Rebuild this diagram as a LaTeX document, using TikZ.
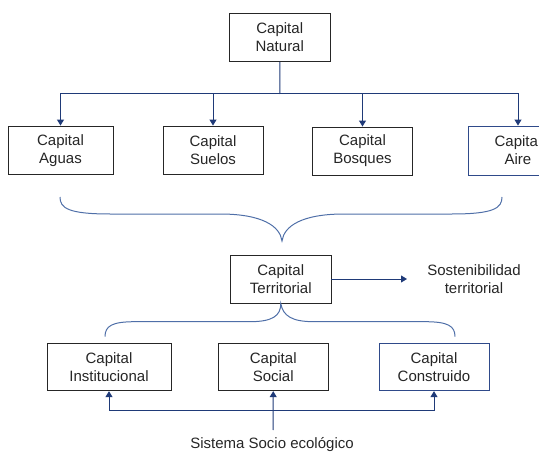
\documentclass[tikz,border=0pt]{standalone}
\usepackage{fontspec}
\setmainfont{Liberation Sans}
\usetikzlibrary{arrows.meta}
\definecolor{navy}{HTML}{1F3A78}
\definecolor{lineblue}{HTML}{4F6FA8}
\definecolor{boxblue}{HTML}{2F4A8A}
\definecolor{boxgray}{HTML}{262626}
\tikzset{
  capbox/.style={draw=boxgray, line width=0.9pt, fill=white, inner sep=0pt, align=center,
    font=\fontsize{15}{18}\selectfont, text=black!85},
  bluebox/.style={capbox, draw=boxblue},
  lbl/.style={align=center, font=\fontsize{15}{18}\selectfont, text=black!85, inner sep=0pt},
  conn/.style={draw=navy, line width=1pt, -{Triangle[length=6pt,width=7pt]}},
  plain/.style={draw=navy, line width=1pt},
  brace/.style={draw=lineblue, line width=1pt}
}
\begin{document}
\begin{tikzpicture}[x=1pt,y=-1pt]
\useasboundingbox (0,0) rectangle (539,452);
% top
\node[capbox, minimum width=100.5pt, minimum height=48.5pt] (nat) at (279.75,37.25) {Capital\\Natural};
\node[capbox, minimum width=105pt, minimum height=48.5pt] (agu) at (60.5,150.25) {Capital\\Aguas};
\node[capbox, minimum width=100pt, minimum height=48.5pt] (sue) at (213,150.25) {Capital\\Suelos};
\node[capbox, minimum width=100pt, minimum height=48pt] (bos) at (362.5,151) {Capital\\Bosques};
\node[bluebox, minimum width=100pt, minimum height=49pt] (air) at (518,150.5) {Capital\\Aire};
\coordinate (hub) at (280,94);
\draw[plain] (nat.south) -- (hub);
\draw[draw=lineblue, line width=1pt] (60,94) -- (518,94);
\draw[conn] (hub) -| (agu.north);
\draw[conn] (hub) -| (sue.north);
\draw[conn] (hub) -| (bos.north);
\draw[conn] (hub) -| (air.north);
% big brace
\coordinate (b1) at (60,197);
\coordinate (b2) at (502,197);
\coordinate (btip) at (282,241);
\draw[brace] (b1) .. controls (60,208) and (68,214) .. (110,214) -- (220,214)
  .. controls (262,214) and (280,226) .. (btip)
  .. controls (284,226) and (302,214) .. (344,214) -- (452,214)
  .. controls (494,214) and (502,208) .. (b2);
% territorial
\node[capbox, minimum width=100.5pt, minimum height=48pt] (ter) at (280.75,279) {Capital\\Territorial};
\node[lbl] (sos) at (474,279) {Sostenibilidad\\territorial};
\coordinate (tip) at (407,279);
\draw[conn] (ter.east) -- (tip);
% lower brace
\draw[brace] (105,336.7) .. controls (105,326) and (112,321.7) .. (135,321.7) -- (250,321.7)
  .. controls (272,321.7) and (281,316) .. (ter.south)
  .. controls (283,316) and (292,321.7) .. (314,321.7) -- (425,321.7)
  .. controls (448,321.7) and (455,326) .. (455,336.7);
% lower boxes
\node[capbox, minimum width=124pt, minimum height=47.4pt] (ins) at (109,367) {Capital\\Institucional};
\node[capbox, minimum width=109.5pt, minimum height=47.4pt] (soc) at (273.25,367) {Capital\\Social};
\node[bluebox, minimum width=110pt, minimum height=47.4pt] (con) at (434,367) {Capital\\Construido};
\node[lbl, anchor=center] (sis) at (272,444.5) {Sistema Socio ecológico};
\coordinate (sb) at (273,430);
\coordinate (junc) at (273,410);
\draw[plain] (109,410) -- (434,410);
\draw[conn] (sb) -- (soc.south);
\draw[conn] (junc) -| (ins.south);
\draw[conn] (junc) -| (con.south);
\end{tikzpicture}
\end{document}
